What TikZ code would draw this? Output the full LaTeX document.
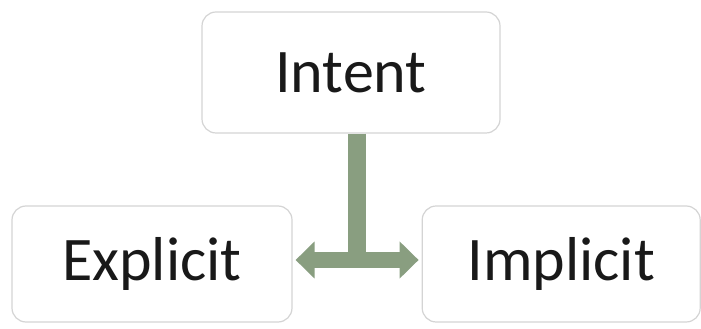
\documentclass[tikz,border=0pt]{standalone}
\usepackage{fontspec}
\setmainfont{Carlito}
\usepackage{tikz}
\usetikzlibrary{positioning,arrows.meta}

\definecolor{boxline}{RGB}{212,212,212}
\definecolor{sage}{RGB}{137,158,128}

\tikzset{
	box/.style={draw=boxline,line width=1.2pt,fill=white,rounded corners=14pt,inner sep=0pt,font=\fontsize{62}{70}\selectfont,text=black!90},
}

\begin{document}
\begin{tikzpicture}[x=1pt,y=1pt]
		\useasboundingbox (0,0) rectangle (701,329);
		\node[box,minimum width=298pt,minimum height=121pt] (intent) at (351,256.5) {Intent};
		\node[box,minimum width=280pt,minimum height=116pt] (explicit) at (152,65) {Explicit};
		\node[box,minimum width=278pt,minimum height=116pt,right=129pt of explicit] (implicit) {Implicit};
		\coordinate (hub) at (357,61);
		
		\draw[sage,line width=18pt] (intent.south -| hub) -- (hub);
		\draw[sage,line width=16pt,{Triangle[width=36pt,length=19pt]}-{Triangle[width=36pt,length=19pt]}] ([xshift=3pt,yshift=4pt]explicit.east) -- ([xshift=-3pt,yshift=4pt]implicit.west);
	\end{tikzpicture}
\end{document}
